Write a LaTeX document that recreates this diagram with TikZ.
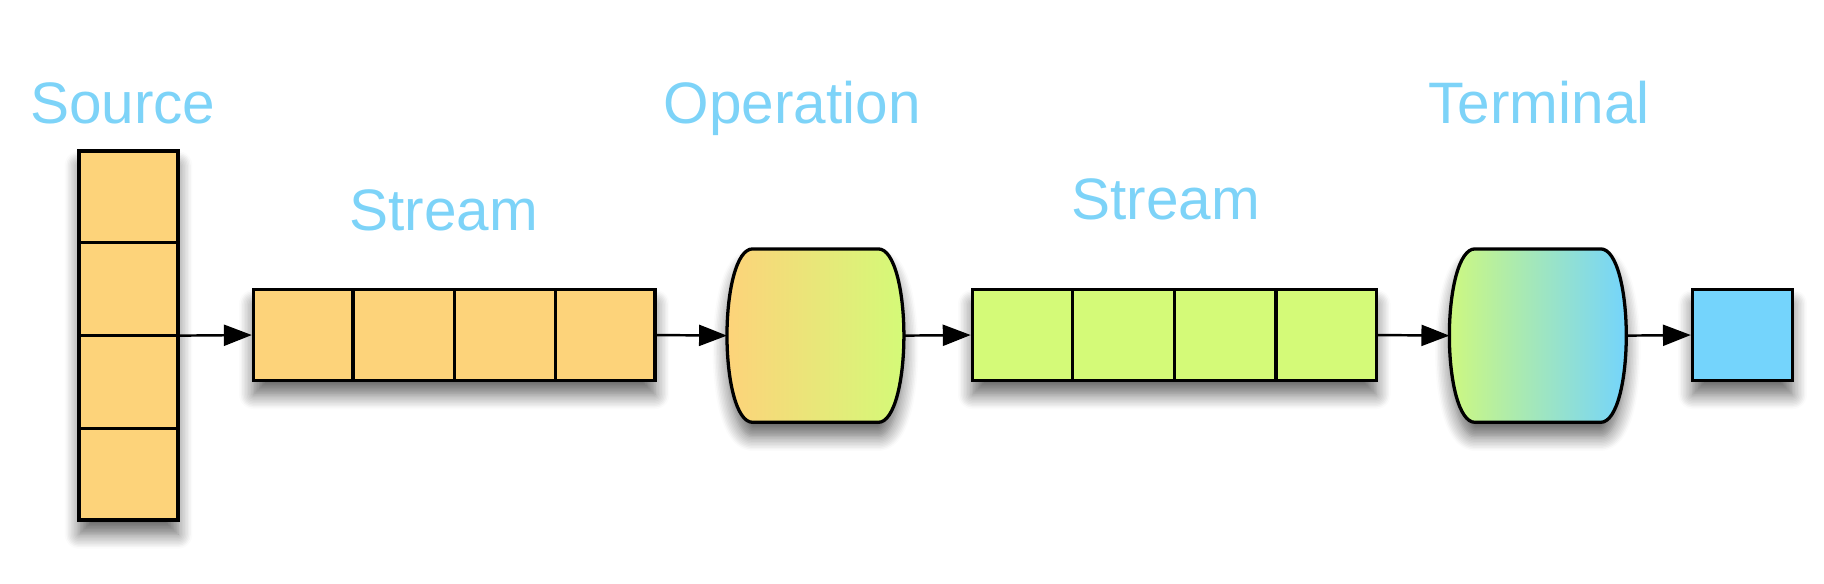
\documentclass[tikz,border=0pt]{standalone}
\usepackage{fontspec}
\setmainfont{Liberation Sans}
\usetikzlibrary{arrows.meta,calc,shadows.blur}
\definecolor{orng}{RGB}{253,211,122}
\definecolor{lgreen}{RGB}{212,250,120}
\definecolor{tgreen}{RGB}{205,248,128}
\definecolor{sky}{RGB}{116,212,252}
\definecolor{lbl}{RGB}{125,211,248}
\tikzset{
  shad/.style={blur shadow={shadow xshift=0pt, shadow yshift=-3.5pt, shadow blur radius=3.5pt, shadow blur steps=10, shadow opacity=60}},
  cellbox/.style={draw=black, line width=0.8pt, inner sep=0pt, shad},
  divline/.style={draw=black, line width=0.8pt},
  holder/.style={inner sep=0pt, outer sep=0pt},
  barrel/.style={draw=black, line width=0.8pt, shad},
  lbltext/.style={text=lbl, font=\fontsize{14.3}{16}\selectfont, anchor=base, inner sep=0pt},
  conn/.style={draw=black, line width=0.6pt, -{Triangle[length=0.24cm, width=0.18cm, fill=black]}}
}
\begin{document}
\begin{tikzpicture}[x=0.01cm, y=-0.01cm]
\useasboundingbox (0,0) rectangle (1568,502);
% labels
\node[lbltext] (lsrc) at (105.5,106) {Source};
\node[lbltext] (lop) at (681,106) {Operation};
\node[lbltext] (lterm) at (1323,106) {Terminal};
\node[lbltext] (ls1) at (381.5,198) {Stream};
\node[lbltext] (ls2) at (1002,189) {Stream};
% source column
\node[cellbox, fill=orng, minimum width=0.85cm, minimum height=3.17cm] (src) at (110.5,288.5) {};
\foreach \f in {0.25,0.5,0.75}
  \draw[divline] ($(src.north west)!\f!(src.south west)$) -- ($(src.north east)!\f!(src.south east)$);
% stream 1
\node[cellbox, fill=orng, minimum width=3.45cm, minimum height=0.78cm] (s1) at (390.5,288) {};
\foreach \f in {0.25,0.5,0.75}
  \draw[divline] ($(s1.north west)!\f!(s1.north east)$) -- ($(s1.south west)!\f!(s1.south east)$);
% operation
\node[holder, minimum width=1.52cm, minimum height=1.49cm] (op) at (701,288.5) {};
\draw[barrel, left color=orng, right color=lgreen]
  ($(op.north west)+(22,0)$) -- ($(op.north east)+(-22,0)$)
  .. controls ($(op.north east)+(-8,0)$) and ($(op.east)+(0,-38)$) .. (op.east)
  .. controls ($(op.east)+(0,38)$) and ($(op.south east)+(-8,0)$) .. ($(op.south east)+(-22,0)$)
  -- ($(op.south west)+(22,0)$)
  .. controls ($(op.south west)+(8,0)$) and ($(op.west)+(0,38)$) .. (op.west)
  .. controls ($(op.west)+(0,-38)$) and ($(op.north west)+(8,0)$) .. cycle;
% stream 2
\node[cellbox, fill=lgreen, minimum width=3.47cm, minimum height=0.78cm] (s2) at (1009.5,288) {};
\foreach \f in {0.25,0.5,0.75}
  \draw[divline] ($(s2.north west)!\f!(s2.north east)$) -- ($(s2.south west)!\f!(s2.south east)$);
% terminal
\node[holder, minimum width=1.52cm, minimum height=1.49cm] (term) at (1322,288.5) {};
\draw[barrel, left color=tgreen, right color=sky]
  ($(term.north west)+(22,0)$) -- ($(term.north east)+(-22,0)$)
  .. controls ($(term.north east)+(-8,0)$) and ($(term.east)+(0,-38)$) .. (term.east)
  .. controls ($(term.east)+(0,38)$) and ($(term.south east)+(-8,0)$) .. ($(term.south east)+(-22,0)$)
  -- ($(term.south west)+(22,0)$)
  .. controls ($(term.south west)+(8,0)$) and ($(term.west)+(0,38)$) .. (term.west)
  .. controls ($(term.west)+(0,-38)$) and ($(term.north west)+(8,0)$) .. cycle;
% result
\node[cellbox, fill=sky, minimum width=0.86cm, minimum height=0.78cm] (res) at (1498,288) {};
% connectors
\draw[conn] (src.east) -- (s1.west);
\draw[conn] (s1.east) -- (op.west);
\draw[conn] (op.east) -- (s2.west);
\draw[conn] (s2.east) -- (term.west);
\draw[conn] (term.east) -- (res.west);
\end{tikzpicture}
\end{document}
